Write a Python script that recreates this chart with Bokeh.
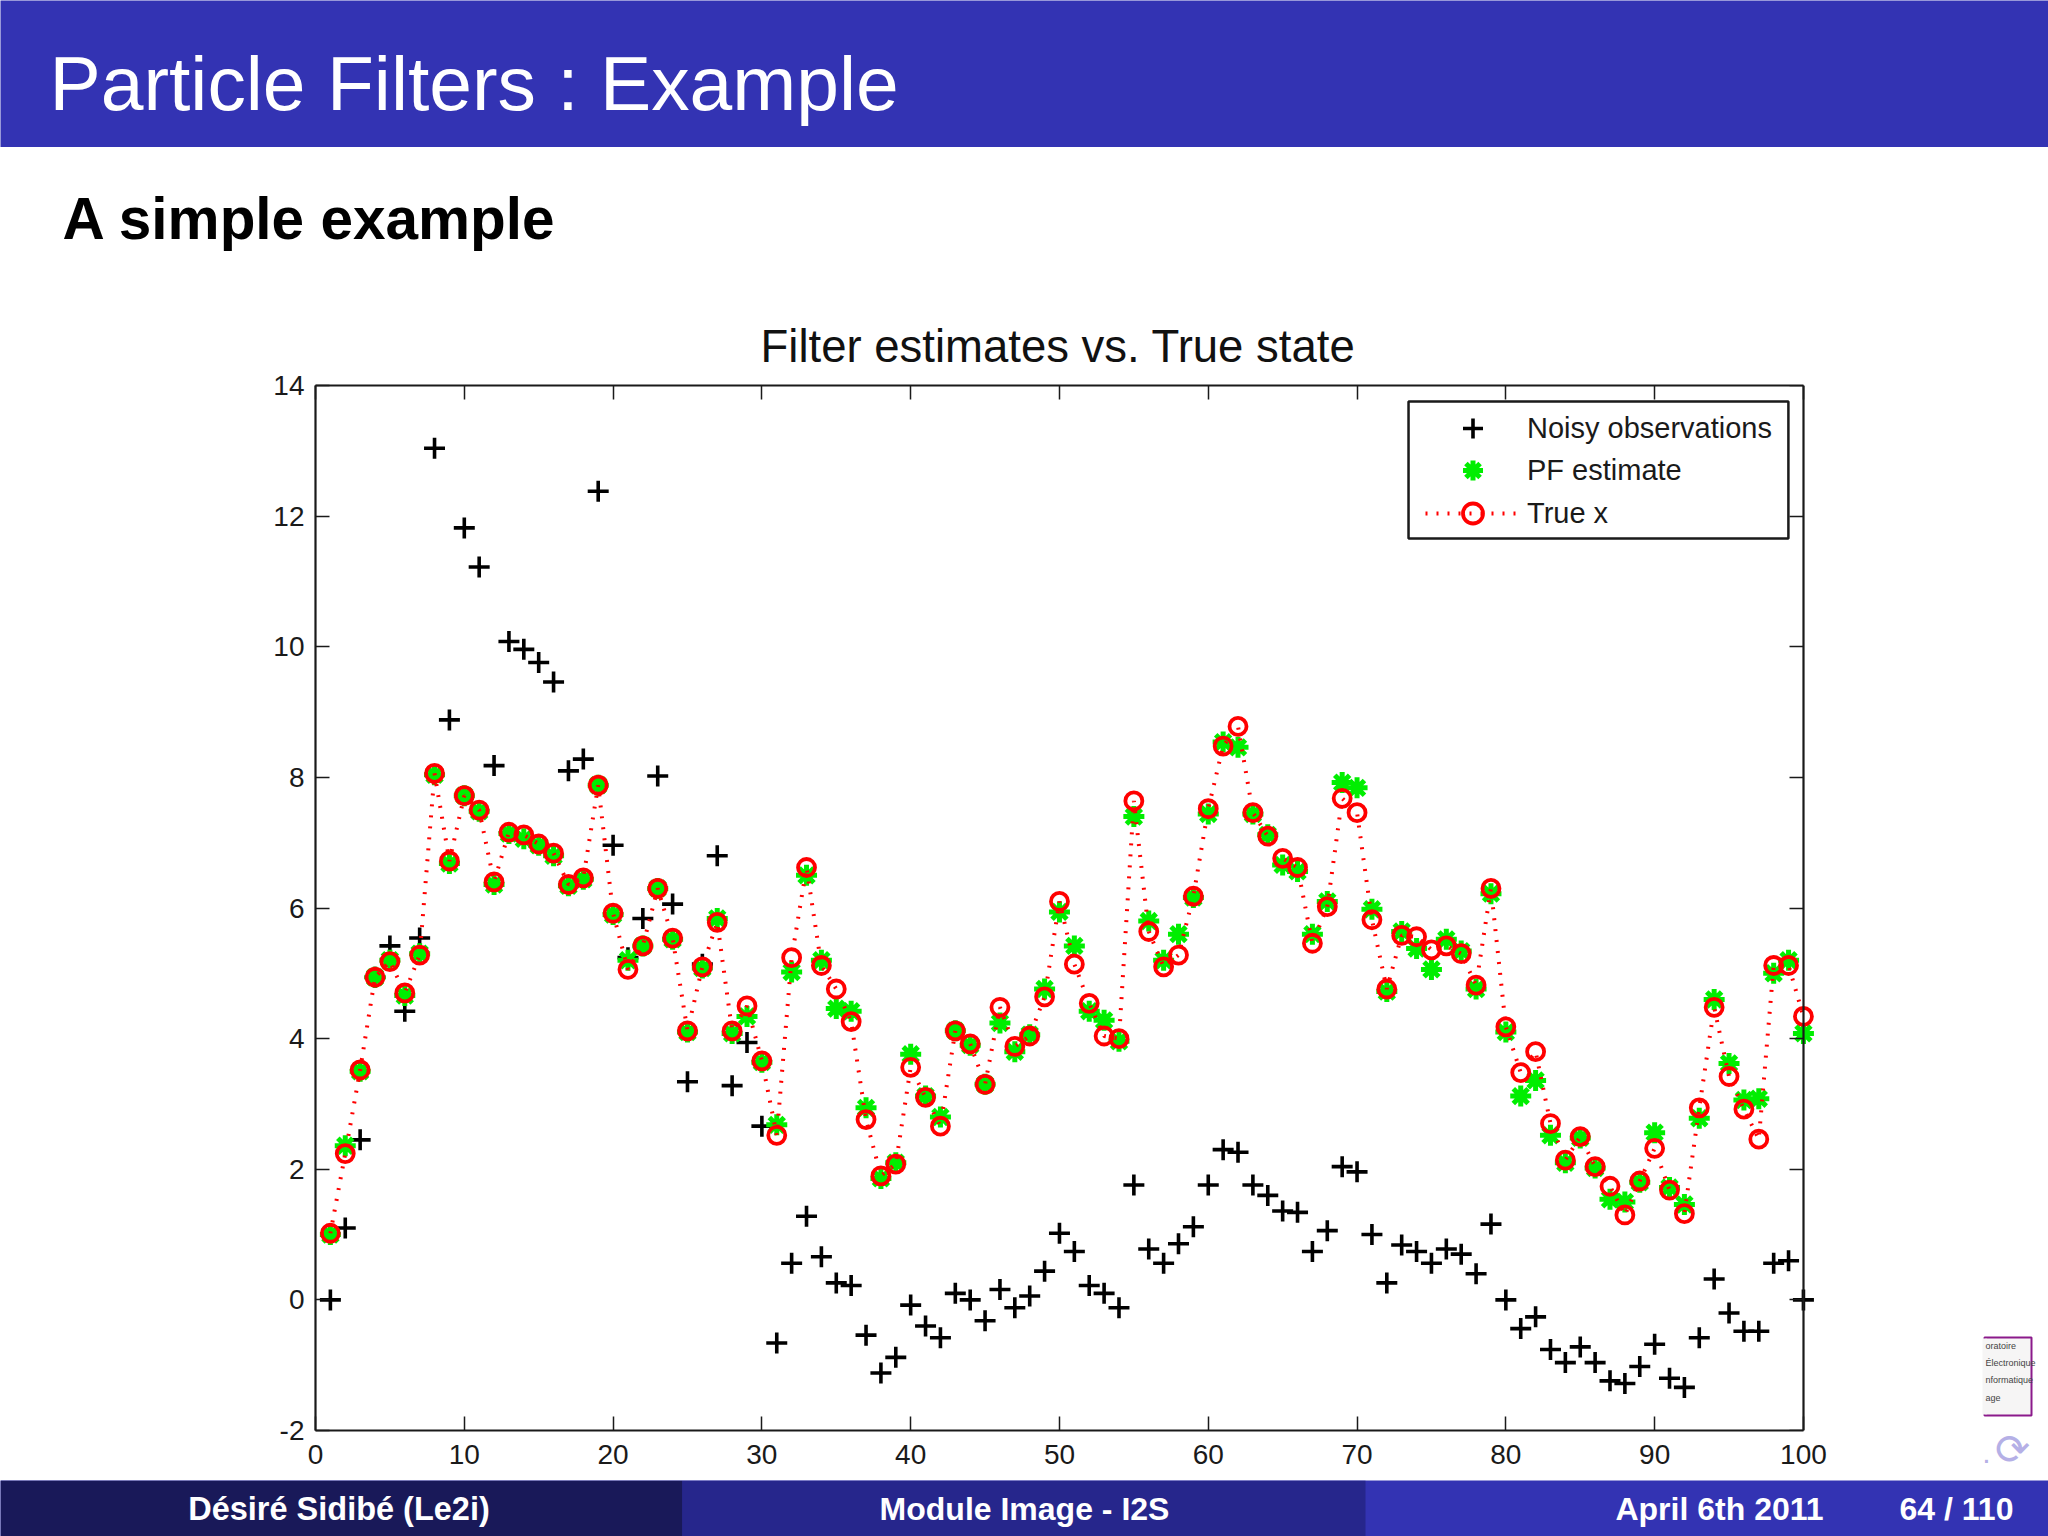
from bokeh.embed import file_html
from bokeh.resources import INLINE
from bokeh.plotting import figure
from bokeh.layouts import column, row
from bokeh.models import (BoxAnnotation, Label, LinearAxis, FixedTicker, Legend, LegendItem,
                          Range1d, ColumnDataSource)

k = list(range(1, 101))
noisy = [0.0,1.1,2.45,4.94,5.42,4.42,5.54,13.04,8.88,11.82,11.22,8.18,10.08,9.96,9.76,9.46,8.1,8.28,12.38,6.96,
         5.24,5.84,8.02,6.06,3.34,5.14,6.8,3.28,3.94,2.66,-0.66,0.56,1.28,0.66,0.26,0.22,-0.54,-1.12,-0.88,-0.08,
         -0.4,-0.58,0.1,0.0,-0.32,0.16,-0.12,0.06,0.44,1.02,0.74,0.22,0.1,-0.12,1.76,0.78,0.56,0.86,1.12,1.76,
         2.3,2.26,1.76,1.6,1.36,1.34,0.74,1.06,2.04,1.96,1.0,0.26,0.84,0.74,0.56,0.78,0.7,0.4,1.16,0.0,
         -0.44,-0.26,-0.76,-0.96,-0.72,-0.96,-1.24,-1.28,-1.02,-0.68,-1.2,-1.34,-0.58,0.32,-0.2,-0.48,-0.48,0.56,0.6,0.0]
true_x = [1.02,2.24,3.52,4.94,5.18,4.7,5.28,8.06,6.72,7.72,7.5,6.4,7.16,7.12,6.98,6.84,6.36,6.46,7.88,5.92,
          5.06,5.42,6.3,5.54,4.12,5.1,5.78,4.12,4.5,3.66,2.52,5.24,6.62,5.12,4.76,4.26,2.76,1.9,2.08,3.56,
          3.1,2.66,4.12,3.92,3.3,4.48,3.88,4.04,4.64,6.1,5.14,4.54,4.04,4.0,7.64,5.64,5.1,5.28,6.18,7.52,
          8.48,8.78,7.46,7.1,6.76,6.62,5.46,6.02,7.68,7.46,5.82,4.76,5.58,5.56,5.36,5.42,5.3,4.82,6.3,4.18,
          3.48,3.8,2.7,2.14,2.5,2.04,1.74,1.3,1.82,2.32,1.68,1.32,2.94,4.48,3.42,2.92,2.46,5.12,5.12,4.34]
pf = [1.0,2.36,3.5,4.94,5.2,4.66,5.3,8.04,6.68,7.72,7.48,6.36,7.14,7.06,6.96,6.8,6.34,6.44,7.88,5.9,
      5.2,5.42,6.3,5.52,4.1,5.08,5.84,4.08,4.34,3.64,2.68,5.02,6.5,5.2,4.46,4.42,2.94,1.86,2.1,3.76,
      3.12,2.8,4.12,3.9,3.3,4.24,3.8,4.06,4.76,5.94,5.42,4.42,4.28,3.96,7.4,5.8,5.2,5.6,6.16,7.44,
      8.54,8.46,7.44,7.12,6.66,6.56,5.6,6.1,7.92,7.84,5.98,4.72,5.64,5.38,5.06,5.52,5.34,4.76,6.22,4.1,
      3.12,3.36,2.52,2.1,2.48,2.02,1.54,1.5,1.8,2.56,1.72,1.46,2.78,4.6,3.62,3.06,3.08,5.0,5.2,4.08]
x_ticks = [0,10,20,30,40,50,60,70,80,90,100]
y_ticks = [-2,0,2,4,6,8,10,12,14]
chart_title = "Filter estimates vs. True state"
slide_title = "Particle Filters : Example"
subtitle = "A simple example"
footer_texts = ["Désiré Sidibé  (Le2i)", "Module Image - I2S", "April 6th 2011", "64 / 110"]
logo_lines = ["oratoire", "Électronique", "nformatique", "age"]

FONT = "Liberation Sans"
INK = "#1a1a1a"
src = ColumnDataSource(dict(k=k, noisy=noisy, true_x=true_x, pf=pf))


def band(w, h, x0, y0, bg):
    """A plain strip of the slide whose data coordinates are page pixels."""
    f = figure(width=w, height=h, output_backend="svg", toolbar_location=None,
               x_range=Range1d(x0, x0 + w), y_range=Range1d(y0 + h, y0),
               x_axis_type=None, y_axis_type=None, min_border=0,
               background_fill_color=bg, border_fill_color=bg, outline_line_color=None)
    f.grid.visible = False
    return f


def txt(f, x, y, s, size, color="white", bold=False, align="left"):
    f.add_layout(Label(x=x, y=y, text=s, text_font=FONT, text_font_size=f"{size}px", text_color=color,
                       text_align=align, text_baseline="middle",
                       text_font_style="bold" if bold else "normal"))


def box(f, l, r, t, b, fill, line=None):
    f.add_layout(BoxAnnotation(left=l, right=r, top=t, bottom=b, fill_color=fill, fill_alpha=1,
                               line_color=line, line_alpha=1, line_width=2 if line else 0, level="underlay"))


header = band(2048, 147, 0, 0, "#3333b3")
txt(header, 49, 82, slide_title, 76.8)

sub = band(2048, 153, 0, 147, "white")
txt(sub, 62, 218, subtitle, 58.5, "black", True)

p = figure(width=1900, height=1180, output_backend="svg", toolbar_location=None,
           x_range=Range1d(0, 101.08), y_range=Range1d(-2, 14),
           x_axis_type=None, y_axis_type=None,
           min_border_left=315, min_border_right=81, min_border_top=85, min_border_bottom=50,
           background_fill_color="white", border_fill_color="white", outline_line_color=None)
p.grid.visible = False


def style(ax, ticks, labels=True):
    ax.ticker = FixedTicker(ticks=ticks)
    ax.minor_tick_line_color = None
    ax.major_tick_in = 14
    ax.major_tick_out = 0
    ax.major_tick_line_color = INK
    ax.major_tick_line_width = 1.5
    ax.axis_line_color = INK
    ax.axis_line_width = 2.2
    ax.major_label_text_font = FONT
    ax.major_label_text_font_size = "28px"
    ax.major_label_text_color = INK
    if not labels:
        ax.major_label_overrides = {t: "" for t in ticks}
        ax.major_label_text_font_size = "1px"
        ax.major_label_standoff = 0


bottom = LinearAxis(bounds=(0, 100)); style(bottom, x_ticks); bottom.major_label_standoff = 14
left = LinearAxis(); style(left, y_ticks); left.major_label_standoff = 11
left.major_label_overrides = {-2: "-2"}
top = LinearAxis(bounds=(0, 100)); style(top, x_ticks, False)
right = LinearAxis(fixed_location=100); style(right, y_ticks, False)
p.add_layout(bottom, "below"); p.add_layout(left, "left")
p.add_layout(top, "above"); p.add_layout(right, "right")

p.title.text = chart_title
p.title.text_font = FONT
p.title.text_font_size = "45.5px"
p.title.text_font_style = "normal"
p.title.text_color = "#111111"
p.title.align = "left"
p.title.offset = 445
p.title.standoff = 28

r_obs = p.scatter("k", "noisy", source=src, marker="cross", size=21, line_color="black", line_width=3.6)
r_pf = p.scatter("k", "pf", source=src, marker="asterisk", size=21, line_color="#00ee00", line_width=5)
r_line = p.line("k", "true_x", source=src, line_color="#ff0000", line_width=4, line_dash=[2, 9])
r_true = p.scatter("k", "true_x", source=src, marker="circle", size=17, fill_color=None,
                   line_color="#ff0000", line_width=3.8)

# legend frame (page x 1408..1788, y 401..538) expressed on the chart's scales
p.add_layout(BoxAnnotation(left=73.46, right=98.99, top=13.755, bottom=11.657, fill_color="white", fill_alpha=1,
                           line_color=INK, line_alpha=1, line_width=2.5))


def legend_row(label, renderers, centre):
    p.add_layout(Legend(items=[LegendItem(label=label, renderers=renderers)],
                        location=(1110, 1430 - (centre + 25)), padding=0, glyph_width=95, glyph_height=50,
                        label_standoff=7, label_text_font=FONT, label_text_font_size="29px",
                        label_text_color=INK, border_line_color=None, background_fill_color=None, margin=0))


legend_row("Noisy observations", [r_obs], 428)
legend_row("PF estimate", [r_pf], 470)
legend_row("True x", [r_line, r_true], 513)

side = band(148, 1180, 1900, 300, "white")
box(side, 1984, 2031, 1337, 1415, "#f6f5f5", "#8b1a8b")
box(side, 1982, 1986, 1338, 1414, "#f6f5f5")
for i, s in enumerate(logo_lines):
    txt(side, 1985, 1345 + i * 17.4, s, 9, "#444444")
txt(side, 2012, 1449, "\u27f3", 42, "#b5b0e6", align="center")
txt(side, 1986, 1452, ".", 30, "#b5b0e6", align="center")

footer = band(2048, 56, 0, 1480, "#3333b3")
box(footer, 0, 682, 1480, 1536, "#191959")
box(footer, 682, 1365, 1480, 1536, "#26268c")
txt(footer, 343, 1508, footer_texts[0], 32.5, bold=True, align="center")
txt(footer, 1024, 1508, footer_texts[1], 32, bold=True, align="center")
txt(footer, 1719, 1508, footer_texts[2], 32, bold=True, align="center")
txt(footer, 1956, 1508, footer_texts[3], 32, bold=True, align="center")

page = column(header, sub, row(p, column(side, spacing=0), spacing=0), footer, spacing=0)
open("out.html", "w").write(file_html(page, INLINE))
